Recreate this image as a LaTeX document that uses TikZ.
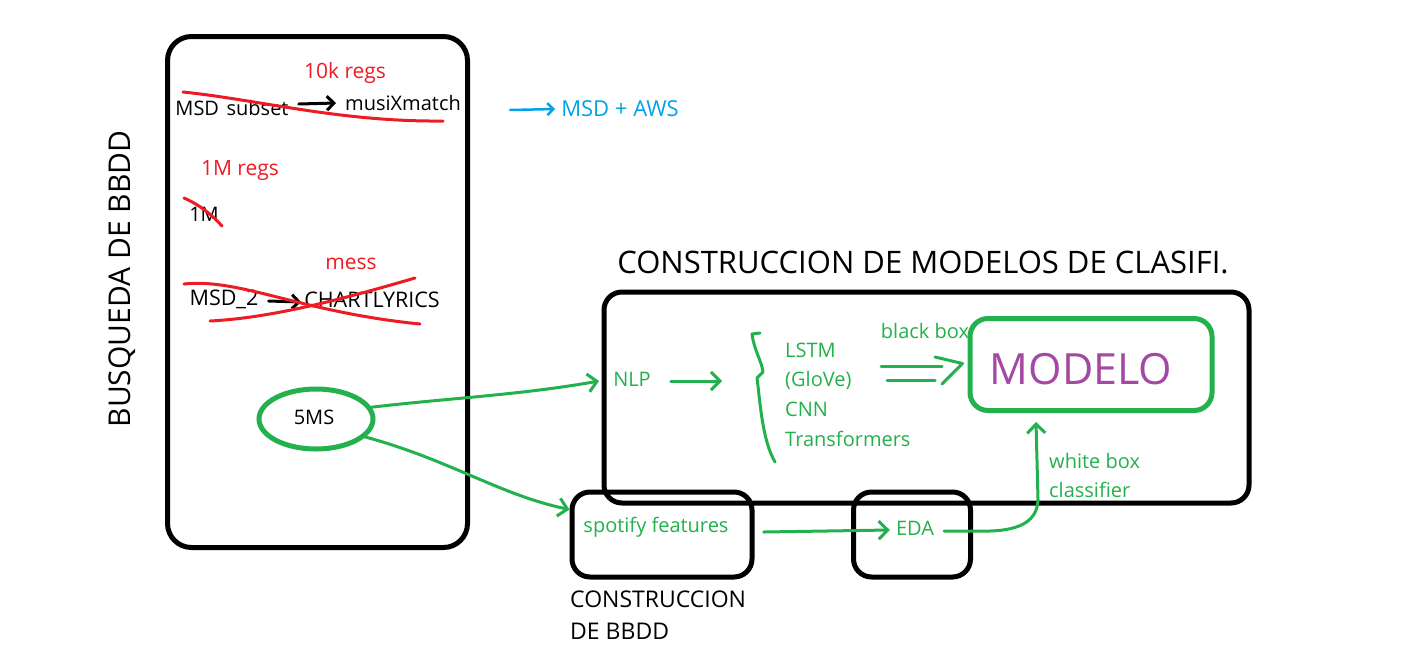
\documentclass[tikz,border=0pt]{standalone}
\usepackage{fontspec}
\setmainfont{Open Sans}
\usetikzlibrary{arrows.meta,shapes.geometric}
\definecolor{gr}{RGB}{34,177,76}
\definecolor{rd}{RGB}{237,28,36}
\definecolor{bl}{RGB}{0,162,232}
\definecolor{pu}{RGB}{163,73,164}
\tikzset{
  txt/.style={inner sep=0pt, font=\fontsize{20}{24}\selectfont},
  caps/.style={font=\fontsize{21.5}{25}\selectfont},
  blk/.style={txt, text=black},
  gtxt/.style={txt, text=gr},
  rtxt/.style={txt, text=rd, font=\fontsize{21}{25}\selectfont},
  bigbox/.style={draw=black, line width=5pt, rounded corners=18pt},
  gbox/.style={draw=gr, line width=5pt, rounded corners=18pt},
  strike/.style={draw=rd, line width=3pt, line cap=round},
  garrow/.style={draw=gr, line width=3pt, line cap=round, line join=round, -{Straight Barb[length=9pt,width=18pt,line width=3pt]}},
  gline/.style={draw=gr, line width=3pt, line cap=round},
  karrow/.style={draw=black, line width=3pt, line cap=round, -{Straight Barb[length=7pt,width=14pt,line width=3pt]}},
  barrow/.style={draw=bl, line width=2.5pt, line cap=round, -{Straight Barb[length=6pt,width=12pt,line width=2.5pt]}},
}
\begin{document}
\begin{tikzpicture}[x=1pt,y=-1pt]
\useasboundingbox (0,0) rectangle (1421,665);
\fill[white] (0,0) rectangle (1421,665);

% left box
\node[bigbox, minimum width=300pt, minimum height=511pt, rounded corners=24pt] (left) at (317.5,292) {};
\node[blk, rotate=90, font=\fontsize{30}{34}\selectfont] (busq) at (122,279) {BUSQUEDA DE BBDD};

% MSD subset -> musiXmatch
\node[blk] (msd) at (232,108) {MSD\hspace{0.12em} subset};
\node[blk] (mxm) at (403,103) {musiXmatch};
\draw[karrow] ([xshift=10pt,yshift=4pt]msd.east) -- ([xshift=-9pt]mxm.west);
\node[rtxt] (r10k) at (345,73) {10k regs};
\draw[strike] (183,92) .. controls (260,100) and (340,122) .. (443,121);

% blue
\coordinate (bstart) at (510,110);
\node[txt, text=bl, font=\fontsize{22}{26}\selectfont] (aws) at (620,109) {MSD + AWS};
\draw[barrow] (bstart) -- ([xshift=-6pt]aws.west);

% 1M
\node[rtxt] (r1m) at (240,171) {1M regs};
\node[blk] (onem) at (204,214) {1M};
\draw[strike] (184,198) .. controls (200,205) and (212,215) .. (222,226);

% MSD_2 -> CHARTLYRICS
\node[rtxt] (mess) at (351,264) {mess};
\node[blk, caps] (msd2) at (224,299) {MSD\_2};
\node[blk, caps] (chart) at (372,300) {CHARTLYRICS};
\draw[karrow] ([xshift=10pt,yshift=-2pt]msd2.east) -- ([xshift=-3pt,yshift=-2pt]chart.west);
\draw[strike] (184,284) .. controls (240,278) and (300,312) .. (420,324);
\draw[strike] (210,321) .. controls (270,318) and (340,300) .. (415,278);

% 5MS
\node[draw=gr, line width=5pt, ellipse, minimum width=114pt, minimum height=60pt, inner sep=0pt] (ms) at (316,419) {};
\node[blk] (mstxt) at (314,417) {5MS};

% big box
\node[txt, font=\fontsize{31}{35}\selectfont] (title) at (923,262) {CONSTRUCCION DE MODELOS DE CLASIFI.};
\node[bigbox, minimum width=645pt, minimum height=211pt] (mbox) at (926.5,397.5) {};

\node[gtxt] (nlp) at (632,379) {NLP};
\coordinate (brtip) at (722,381);
\draw[garrow] ([xshift=20pt,yshift=-2pt]nlp.east) -- (brtip);

% brace
\draw[gline, line join=round] (760,333) -- (752,334) .. controls (754,350) and (762,362) .. (763,372) -- (757,378) .. controls (760,400) and (762,440) .. (775,462);

\node[gtxt, anchor=west] (lstm) at (785,350) {LSTM};
\node[gtxt, anchor=west] (glove) at (785,380) {(GloVe)};
\node[gtxt, anchor=west] (cnn) at (785,409) {CNN};
\node[gtxt, anchor=west] (trans) at (785,439) {Transformers};
\node[gtxt] (bb) at (925,331) {black box};

% MODELO
\node[gbox, minimum width=242pt, minimum height=92pt] (modelo) at (1091,364.5) {};
\node[txt, text=pu, font=\fontsize{43}{50}\selectfont] (modtxt) at (1081,369) {MODELO};

% double arrow
\coordinate (d1a) at (881,366);
\coordinate (d1b) at (942,366);
\coordinate (d2a) at (887,380);
\coordinate (d2b) at (935,380);
\draw[gline] (d1a) -- (d1b);
\draw[gline] (d2a) -- (d2b);
\draw[gline, line join=round] (935,357) -- ([xshift=-5pt,yshift=1pt]modelo.west) -- (942,384);

% spotify / EDA
\node[bigbox, minimum width=180pt, minimum height=85pt] (sbox) at (662,534.5) {};
\node[gtxt] (spot) at (656,527) {spotify features};
\node[bigbox, minimum width=117pt, minimum height=85pt] (ebox) at (912,534.5) {};
\node[gtxt] (eda) at (915,528) {EDA};
\node[blk, anchor=west, align=left, font=\fontsize{23}{32}\selectfont] (cbd) at (570,615) {CONSTRUCCION\\DE BBDD};

\draw[garrow] ([xshift=35pt,yshift=-5pt]spot.east) -- ([xshift=-6pt,yshift=-2pt]eda.west);

\node[gtxt, anchor=west] (wb) at (1049,461) {white box};
\node[gtxt, anchor=west] (cls) at (1049,490) {classifier};
\draw[garrow] ([xshift=10pt,yshift=-3pt]eda.east) -- (990,531) .. controls (1022,530) and (1037,520) .. (1038,500) -- ([xshift=-55pt,yshift=-9pt]modelo.south);

% from 5MS
\draw[garrow] (ms.12) .. controls (450,398) and (520,395) .. ([xshift=-14pt,yshift=-2pt]nlp.west);
\draw[garrow] (ms.-20) .. controls (450,460) and (500,495) .. ([xshift=0pt,yshift=25pt]sbox.west);
\end{tikzpicture}
\end{document}
